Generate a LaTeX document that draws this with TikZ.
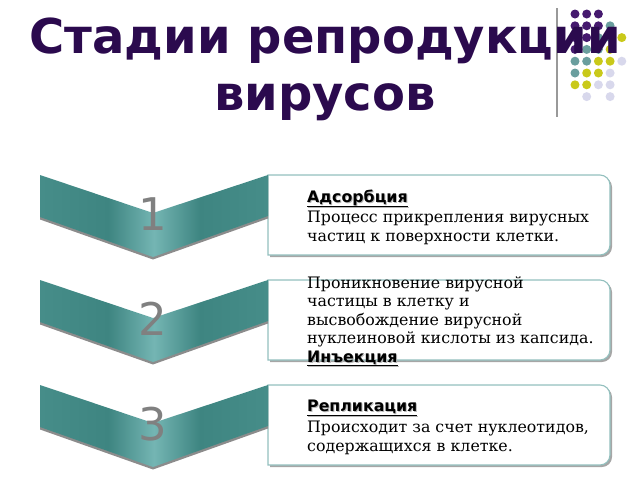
\documentclass[tikz,border=0pt]{standalone}
\usepackage{fontspec}
\setmainfont{DejaVu Serif}
\newfontfamily\hsans{DejaVu Sans}
\definecolor{titlec}{HTML}{2B0A4E}
\definecolor{dotP}{HTML}{45196E}
\definecolor{dotT}{HTML}{6A9E9E}
\definecolor{dotY}{HTML}{C9C91A}
\definecolor{dotL}{HTML}{D8D8EC}
\definecolor{tA}{HTML}{468D89}
\definecolor{tB}{HTML}{3E8581}
\definecolor{tC}{HTML}{74B5B3}
\definecolor{boxline}{HTML}{93C0BE}
\definecolor{numc}{HTML}{808080}
\pgfdeclarehorizontalshading{chevshade}{100bp}{color(0bp)=(tA); color(25bp)=(tA); color(40bp)=(tB); color(50bp)=(tC); color(60bp)=(tB); color(75bp)=(tA); color(100bp)=(tA)}
\tikzset{
  dotst/.style={circle, inner sep=0pt, minimum size=9pt},
  boxst/.style={draw=boxline, line width=1.1pt, fill=white},
  boxshadow/.style={fill=black!35},
  chevshadow/.style={fill=black!45},
  numst/.style={anchor=base, inner sep=0pt, text=numc, font=\hsans\fontsize{45}{50}\selectfont},
  headst/.style={anchor=base west, inner sep=0pt, font=\hsans\bfseries\fontsize{15.8}{19}\selectfont},
  headshadow/.style={headst, text=black!28},
  bodyst/.style={anchor=base west, inner sep=0pt, font=\fontsize{15.8}{19}\selectfont},
}
\begin{document}
\begin{tikzpicture}[x=1pt,y=-1pt]
\useasboundingbox (0,0) rectangle (640,480);
% decorative dots
\foreach \c/\r/\col [count=\k] in {0/0/dotP,1/0/dotP,2/0/dotP,
  0/1/dotP,1/1/dotP,2/1/dotP,3/1/dotT,
  0/2/dotP,1/2/dotP,2/2/dotT,3/2/dotT,4/2/dotY,
  0/3/dotP,1/3/dotT,2/3/dotT,3/3/dotY,
  0/4/dotT,1/4/dotT,2/4/dotY,3/4/dotY,4/4/dotL,
  0/5/dotT,1/5/dotY,2/5/dotY,3/5/dotL,
  0/6/dotY,1/6/dotY,2/6/dotL,3/6/dotL,
  1/7/dotL,3/7/dotL}
  \node[dotst, fill=\col] (dot\k) at ({575+11.7*\c},{14+11.8*\r}) {};
\coordinate (vtop) at (557,8);
\coordinate (vbot) at (557,117);
\draw[black!40, line width=1.2pt] (vtop) -- (vbot);
% title
\node[anchor=base, inner sep=0pt, text=titlec, font=\hsans\bfseries\fontsize{48}{58}\selectfont] (title1) at (325,53) {Стадии репродукции};
\node[anchor=base, inner sep=0pt, text=titlec, font=\hsans\bfseries\fontsize{48}{58}\selectfont] (title2) at (325,110) {вирусов};
% three stages
\foreach \i/\n in {0/1,1/2,2/3}{
  \begin{scope}[shift={(0,\i*105)}]
    \fill[boxshadow] (270,177) -- (602,177) .. controls (607.5,177) and (612,181.5) .. (612,187) -- (612,247) .. controls (612,252.5) and (607.5,257) .. (602,257) -- (270,257) -- cycle;
    \draw[boxst] (268,175) -- (600,175) .. controls (605.5,175) and (610,179.5) .. (610,185) -- (610,245) .. controls (610,250.5) and (605.5,255) .. (600,255) -- (268,255) -- cycle;
    \fill[chevshadow] (40,177.5) -- (153,215.5) -- (268,177.5) -- (268,218.5) -- (153,259.5) -- (40,219.5) -- cycle;
    \shade[shading=chevshade] (40,175) -- (153,213) -- (268,175) -- (268,216) -- (153,257) -- (40,217) -- cycle;
    \node[numst] (num\n) at (153,230) {\n};
  \end{scope}
}
% texts box 1
\node[headshadow] at (308,203) {\underline{Адсорбция}};
\node[headst] (h1) at (307,202) {\underline{Адсорбция}};
\node[bodyst] (b1a) at (307,222) {Процесс прикрепления вирусных};
\node[bodyst] (b1b) at (307,241.5) {частиц к поверхности клетки.};
% texts box 2
\node[bodyst] (b2a) at (307,288) {Проникновение вирусной};
\node[bodyst] (b2b) at (307,306.5) {частицы в клетку и};
\node[bodyst] (b2c) at (307,325) {высвобождение вирусной};
\node[bodyst] (b2d) at (307,343.5) {нуклеиновой кислоты из капсида.};
\node[headshadow] at (308,363) {\underline{Инъекция}};
\node[headst] (h2) at (307,362) {\underline{Инъекция}};
% texts box 3
\node[headshadow] at (308,412.5) {\underline{Репликация}};
\node[headst] (h3) at (307,411.5) {\underline{Репликация}};
\node[bodyst] (b3a) at (307,432) {Происходит за счет нуклеотидов,};
\node[bodyst] (b3b) at (307,451.5) {содержащихся в клетке.};
\end{tikzpicture}
\end{document}
